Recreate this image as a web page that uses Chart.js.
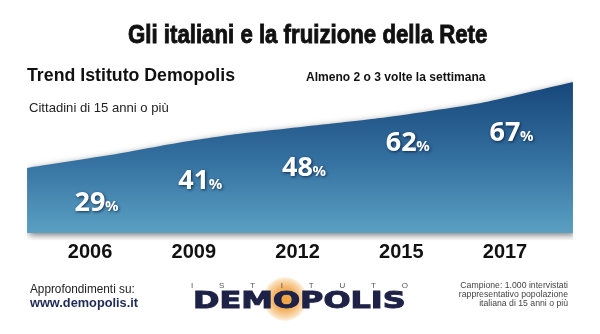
<!DOCTYPE html>
<html><head><meta charset="utf-8">
<script src="https://cdn.jsdelivr.net/npm/chart.js@4.4.0/dist/chart.umd.min.js"></script>
<style>
html,body{margin:0;padding:0;background:#fff;}
#wrap{position:relative;width:600px;height:334px;overflow:hidden;font-family:"Liberation Sans",Arial,sans-serif;}
#c{position:absolute;left:0;top:0;}
.t{position:absolute;white-space:nowrap;line-height:normal;transform-origin:0 50%;transform:translateY(-50%);}
.r{position:absolute;right:32px;white-space:nowrap;text-align:right;font-size:8.7px;color:#444;transform:translateY(-50%);}
#spaced{position:absolute;left:191px;width:217px;top:285px;transform:translateY(-50%);display:flex;justify-content:space-between;font-size:8px;color:#555;}
#blob{position:absolute;left:263px;top:277px;width:44px;height:44px;border-radius:50%;background:radial-gradient(circle,#f0a23e 0%,#f3b060 35%,rgba(246,196,130,0.6) 60%,rgba(255,255,255,0) 75%);}
</style></head><body>
<div id="wrap">
<canvas id="c" width="600" height="334"></canvas>
<div class="t" data-w="359" style="left:128px;top:34px;font-family:'Liberation Sans Narrow','Liberation Sans',sans-serif;font-weight:bold;font-size:26px;color:#111;-webkit-text-stroke:0.9px #111">Gli italiani e la fruizione della Rete</div>
<div class="t" data-w="208" style="left:27px;top:75px;font-weight:bold;font-size:18px;color:#111">Trend Istituto Demopolis</div>
<div class="t" data-w="180" style="left:306px;top:77px;font-weight:bold;font-size:12.2px;color:#111">Almeno 2 o 3 volte la settimana</div>
<div class="t" data-w="140" style="left:29px;top:107px;font-size:13px;color:#222">Cittadini di 15 anni o più</div>
<div class="t" data-w="105" style="left:30px;top:289px;font-size:12px;color:#222">Approfondimenti su:</div>
<div class="t" data-w="108" style="left:30px;top:302px;font-weight:bold;font-size:13px;color:#1f2a55">www.demopolis.it</div>
<div id="blob"></div>
<div id="spaced"><span>I</span><span>S</span><span>T</span><span>I</span><span>T</span><span>U</span><span>T</span><span>O</span></div>
<div class="t" data-w="212" style="left:193px;top:300px;font-family:'DejaVu Sans',sans-serif;font-weight:bold;font-size:23px;color:#1e2247;-webkit-text-stroke:1px #1e2247">DEMOPOLIS</div>
<div class="r" style="top:285px">Campione: 1.000 intervistati</div>
<div class="r" style="top:294px">rappresentativo popolazione</div>
<div class="r" style="top:303px">italiana di 15 anni o più</div>
</div>
<script>
// ---- data ----
const categories = ['2006', '2009', '2012', '2015', '2017'];
const values = [29, 41, 48, 62, 67];
// decorative area outline (top edge), in axis units
const areaTopX = [-0.607, 0.193, 0.839, 1.349, 2.795, 3.759, 4.655];
const areaTopY = [47.3, 54.3, 60.9, 65.2, 74.4, 82.5, 94.0];
const areaBase = 12;

// fit text widths
document.querySelectorAll('.t[data-w]').forEach(el => {
  const w = el.offsetWidth, target = +el.dataset.w;
  el.style.transform = 'translateY(-50%) scaleX(' + (target / w) + ')';
});

const deco = {
  id: 'deco',
  beforeDatasetsDraw(chart) {
    const c = chart.ctx;
    c.save();
    c.shadowColor = 'rgba(0,0,0,0.55)';
    c.shadowBlur = 7;
    c.shadowOffsetX = 2;
    c.shadowOffsetY = 2;
  },
  afterDatasetDraw(chart, args) {
    if (args.index === 0) chart.ctx.restore();
  },
  afterDatasetsDraw(chart) {
    const meta = chart.getDatasetMeta(1);
    const c = chart.ctx;
    c.save();
    c.shadowColor = 'rgba(0,20,50,0.75)';
    c.shadowBlur = 3;
    c.shadowOffsetX = 1;
    c.shadowOffsetY = 1;
    c.fillStyle = '#fff';
    c.textBaseline = 'alphabetic';
    meta.data.forEach((pt, i) => {
      const size = 27;
      c.font = "bold " + size + "px 'Open Sans', 'Liberation Sans', sans-serif";
      const s = String(values[i]);
      const w = c.measureText(s).width;
      const base = pt.y + size * 0.714 / 2;
      c.textAlign = 'center';
      c.fillText(s, pt.x, base);
      c.font = "bold 15px 'Open Sans', 'Liberation Sans', sans-serif";
      c.textAlign = 'left';
      c.fillText('%', pt.x + w / 2 - 0.5, base);
    });
    c.restore();
  }
};

new Chart(document.getElementById('c'), {
  type: 'line',
  data: {
    datasets: [
      {
        data: areaTopX.map((x, i) => ({x: x, y: areaTopY[i]})),
        fill: {value: areaBase},
        backgroundColor: (ctx) => {
          const chart = ctx.chart;
          if (!chart.chartArea) return '#2e6a98';
          const ys = chart.scales.y;
          const g = chart.ctx.createLinearGradient(0, ys.getPixelForValue(94), 0, ys.getPixelForValue(areaBase));
          g.addColorStop(0, '#17477a');
          g.addColorStop(0.5, '#336f9f');
          g.addColorStop(1, '#5aa0c3');
          return g;
        },
        borderColor: 'rgba(0,0,0,0)',
        borderWidth: 0,
        pointRadius: 0,
        tension: 0.15
      },
      {
        data: values.map((v, i) => ({x: i, y: v})),
        showLine: false,
        pointRadius: 0,
        fill: false
      }
    ]
  },
  options: {
    responsive: false,
    animation: false,
    devicePixelRatio: 1,
    events: [],
    layout: {padding: {left: 12.2, right: 12, top: 70.9, bottom: 63.6}},
    plugins: {legend: {display: false}, tooltip: {enabled: false}},
    scales: {
      x: {
        type: 'linear',
        min: -0.75,
        max: 4.8,
        grid: {display: false, drawTicks: false},
        border: {display: false},
        ticks: {
          font: {family: "'Liberation Sans', Arial, sans-serif", size: 20, weight: 'bold'},
          color: '#111',
          padding: 0,
          autoSkip: false,
          maxRotation: 0,
          callback: (v) => categories[v] !== undefined ? categories[v] : ''
        },
        afterBuildTicks: (s) => { s.ticks = categories.map((c, i) => ({value: i})); },
        afterFit: (s) => { s.height = 30; }
      },
      y: {min: 8, max: 100, display: false}
    }
  },
  plugins: [deco]
});
</script>
</body></html>
